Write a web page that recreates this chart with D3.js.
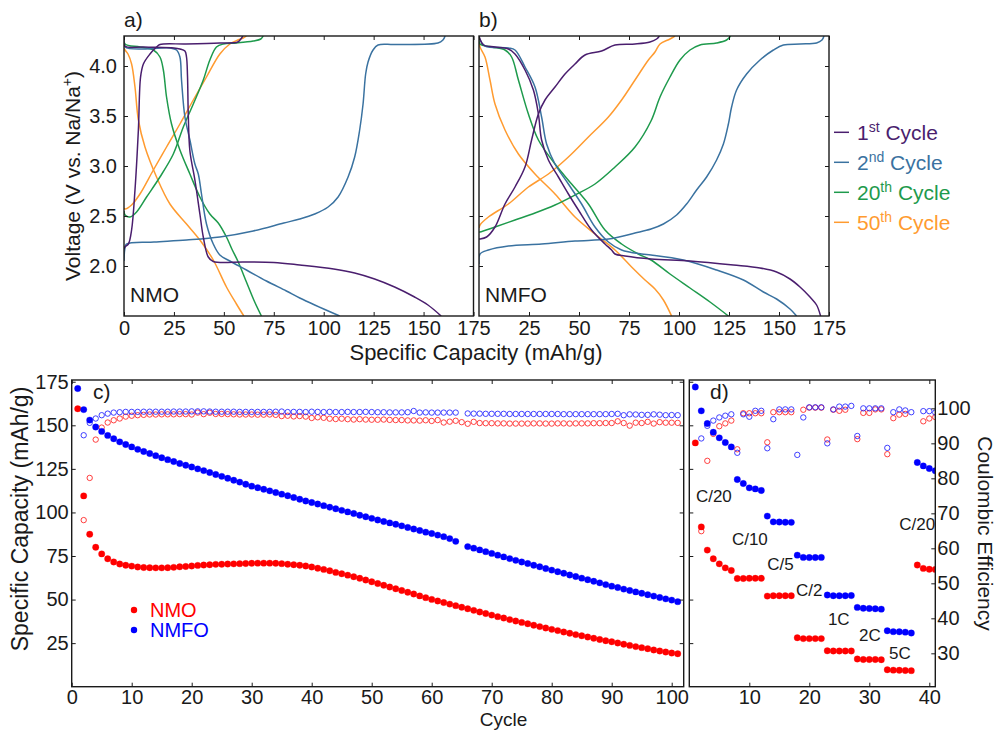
<!DOCTYPE html>
<html><head><meta charset="utf-8">
<script src="https://cdn.jsdelivr.net/npm/d3@7"></script>
<style>body{margin:0;background:#fff}svg{display:block}</style>
</head><body><svg id="fig" width="996" height="730"></svg>
<script>
// ---------- DATA ----------
// Panel a (NMO) voltage profiles: [capacity mAh/g, voltage V]
const aCyc1Charge = [[0,2.17],[0.5,2.19],[2.2,2.22],[3.8,2.36],[5.5,2.76],[7.2,3.36],[8.3,3.89],[9.7,4.02],[13,4.12],[16.3,4.19],[18,4.215],[31,4.22],[48,4.23],[57,4.24],[58.5,4.27],[59.5,4.3]];
const aCyc1Dis = [[0,4.3],[0.5,4.2],[10,4.19],[25,4.18],[28,4.17],[30.5,4.15],[31.3,4.09],[31.8,3.9],[32.2,3.5],[33,3.15],[35.5,2.86],[38,2.52],[39.7,2.29],[42.2,2.09],[44.7,2.045],[60,2.04],[75,2.035],[88,2.01],[105,1.97],[115.5,1.93],[125.5,1.87],[135.5,1.79],[145.5,1.69],[152.2,1.61],[158.8,1.5]];
const aCyc2Charge = [[0,2.05],[0.4,2.17],[1.2,2.22],[15,2.24],[31.3,2.26],[48,2.29],[64.7,2.35],[80,2.43],[88,2.47],[95.5,2.52],[102.2,2.59],[107.2,2.69],[112.2,2.89],[115.5,3.09],[118,3.36],[119.7,3.62],[121,3.92],[122.2,4.04],[124.7,4.16],[127.2,4.21],[135.5,4.215],[157.2,4.23],[159.7,4.26],[160.8,4.3]];
const aCyc2Dis = [[0,4.3],[0.5,4.19],[23,4.18],[26.3,4.16],[28,4.09],[28.8,3.86],[30.5,3.49],[33,3.26],[35.5,3.02],[37.2,2.92],[38.8,2.72],[41.3,2.42],[44.7,2.22],[48,2.11],[53,2.05],[61.3,1.96],[71.3,1.85],[81.3,1.75],[88,1.68],[95.5,1.61],[108,1.5]];
const aCyc20Charge = [[0,2.55],[0.5,2.51],[3,2.49],[6.3,2.54],[11.3,2.69],[18,2.89],[24.7,3.12],[29.7,3.39],[34.7,3.62],[39.7,3.86],[43,4.06],[46.3,4.19],[49.7,4.22],[56.3,4.23],[64.7,4.25],[68.5,4.27],[69.7,4.3]];
const aCyc20Dis = [[0,4.3],[0.5,4.22],[8,4.19],[14.7,4.16],[18,4.09],[19.7,3.96],[21.3,3.69],[23.8,3.42],[28,3.16],[33,2.92],[38,2.69],[43,2.52],[47.2,2.43],[51.3,2.29],[54,2.17],[57.2,2.04],[61.3,1.84],[65,1.66],[68.8,1.5]];
const aCyc50Charge = [[0,2.58],[0.5,2.57],[3.8,2.61],[8,2.72],[14.7,2.96],[21.3,3.19],[28,3.42],[34.7,3.66],[41.3,3.89],[48,4.12],[53,4.22],[57,4.26],[59.7,4.28],[61.3,4.3]];
const aCyc50Dis = [[0,4.18],[0.5,4.16],[2,4.12],[3.8,4.02],[5.5,3.79],[7.2,3.46],[10.5,3.19],[16.3,2.89],[23,2.62],[31.3,2.42],[38,2.26],[44.7,2.06],[51.3,1.79],[56.3,1.62],[60,1.5]];
// Panel b (NMFO)
const bCyc1Charge = [[0,2.27],[0.5,2.27],[3.8,2.29],[8,2.39],[13,2.62],[18,2.79],[23,2.99],[26.3,3.26],[29.7,3.52],[33,3.66],[38,3.79],[43,3.92],[48,4.02],[53,4.11],[61.3,4.15],[68,4.21],[78,4.22],[85.5,4.24],[88.8,4.27],[90.2,4.3]];
const bCyc1Dis = [[0,4.3],[0.5,4.27],[2.2,4.21],[8,4.19],[14.7,4.17],[18,4.12],[23,3.96],[27.2,3.76],[29.7,3.52],[31.3,3.26],[34.7,3.06],[39.7,2.89],[44.7,2.72],[49.7,2.56],[56.3,2.36],[63,2.22],[66.3,2.16],[68,2.12],[73,2.1],[86,2.07],[105.5,2.05],[127.2,2.01],[140.5,1.98],[148.8,1.94],[155.5,1.87],[160.5,1.79],[165.5,1.69],[168.8,1.61],[170.8,1.5]];
const bCyc2Charge = [[0,2.02],[0.5,2.12],[4.7,2.16],[14.7,2.2],[31.3,2.22],[48,2.25],[64.7,2.27],[78,2.33],[86,2.37],[92.2,2.42],[98.8,2.51],[103.8,2.62],[108.8,2.76],[113.8,2.89],[118.8,3.06],[122.2,3.22],[124.7,3.42],[126.3,3.59],[128.8,3.76],[133.8,3.92],[140.5,4.06],[147.2,4.16],[152.2,4.21],[160.5,4.22],[168.8,4.23],[171.5,4.26],[172.5,4.3]];
const bCyc2Dis = [[0,4.3],[0.5,4.26],[3,4.2],[14.7,4.18],[18,4.16],[23,3.99],[28,3.79],[31.3,3.49],[33.8,3.22],[38,3.02],[44.7,2.82],[51.3,2.62],[58,2.39],[64.7,2.24],[71.3,2.16],[81.3,2.12],[86,2.11],[102.2,2.06],[118.8,1.96],[132.2,1.86],[142.2,1.74],[148.8,1.67],[155.5,1.57],[158.8,1.5]];
const bCyc20Charge = [[0,2.34],[0.5,2.34],[8,2.39],[18,2.46],[28,2.53],[38,2.61],[48,2.71],[58,2.82],[68,2.99],[78,3.19],[86,3.45],[90.5,3.69],[95.5,3.89],[100.5,4.06],[105.5,4.16],[110.5,4.21],[118.8,4.23],[123.8,4.26],[125.8,4.3]];
const bCyc20Dis = [[0,4.3],[0.5,4.22],[6.3,4.19],[13,4.16],[16.3,4.09],[19.7,3.86],[24.7,3.52],[29.7,3.26],[38,3.02],[46.3,2.82],[54.7,2.62],[63,2.36],[71.3,2.22],[79.7,2.12],[86,2.06],[95.5,1.92],[105.5,1.78],[115.5,1.64],[124.7,1.5]];
const bCyc50Charge = [[0,2.38],[0.5,2.41],[4.7,2.49],[14.7,2.62],[24.7,2.79],[34.7,2.92],[44.7,3.09],[54.7,3.29],[64.7,3.49],[71.3,3.66],[78,3.86],[84.7,4.06],[88,4.14],[90.5,4.22],[95.5,4.27],[98,4.3]];
const bCyc50Dis = [[0,4.25],[0.5,4.19],[3,4.09],[5.5,3.86],[8,3.62],[13,3.36],[19.7,3.12],[28,2.92],[38,2.72],[48,2.49],[58,2.32],[68,2.16],[76.3,1.99],[83,1.86],[88,1.77],[92.2,1.66],[96.3,1.5]];

const cycleNames = ["1st","2nd","20th","50th"];
const capTicksAB = [0,25,50,75,100,125,150,175];
const voltTicks = [2.0,2.5,3.0,3.5,4.0];

// Panel c: cycles 1..101
const nmoDischarge = [159.5,109.5,87.5,80.0,76.2,73.4,71.6,70.4,69.7,69.2,
68.7,68.4,68.3,68.2,68.2,68.3,68.5,68.8,69.0,69.3,
69.6,69.8,70.0,70.2,70.3,70.4,70.5,70.6,70.7,70.8,
70.9,70.9,70.9,70.8,70.6,70.3,70.0,69.7,69.3,68.7,
68.0,67.3,66.5,65.6,64.8,64.0,63.1,62.2,61.2,60.2,
59.2,58.2,57.2,56.2,55.2,54.2,53.2,52.1,51.1,50.1,
49.2,48.3,47.4,46.5,45.6,44.7,43.8,42.9,42.0,41.1,
40.2,39.4,38.5,37.7,36.9,36.1,35.3,34.5,33.7,32.9,
32.2,31.4,30.7,29.9,29.2,28.5,27.8,27.1,26.4,25.8,
25.1,24.4,23.7,23.0,22.4,21.8,21.1,20.5,19.9,19.3,
18.9];
const nmfoDischarge = [171.1,159.0,153.0,149.0,146.5,144.2,142.3,140.5,139.0,137.6,
136.2,135.0,133.8,132.6,131.4,130.3,129.2,128.1,127.1,126.1,
125.0,124.0,122.9,121.8,120.7,119.6,118.5,117.4,116.2,115.1,
114.2,113.3,112.4,111.4,110.5,109.6,108.6,107.6,106.6,105.7,
104.8,103.9,103.0,102.1,101.2,100.3,99.4,98.4,97.5,96.6,
95.7,94.8,94.0,93.2,92.3,91.4,90.5,89.6,88.7,87.9,
87.0,86.1,85.0,83.4,null,80.4,79.5,78.5,77.5,76.5,
75.5,74.5,73.5,72.5,71.6,70.7,69.7,68.8,67.8,66.9,
66.0,65.1,64.1,63.2,62.3,61.4,60.5,59.6,58.6,57.7,
56.9,56.0,55.2,54.4,53.6,52.8,52.0,51.2,50.4,49.7,
48.8];
const nmoCharge = [null,95.6,119.8,141.8,148.7,151.6,152.9,153.9,155.0,155.5,
155.8,156.0,156.2,156.2,156.3,156.3,156.3,156.4,156.4,156.2,
157.3,156.4,157.2,156.5,156.5,156.4,156.3,156.2,156.2,156.2,
156.1,156.1,156.2,156.0,155.3,155.5,155.1,155.3,155.0,154.2,
154.6,154.3,153.8,153.6,153.8,153.5,153.3,153.5,153.3,153.2,
153.2,153.3,153.1,153.0,153.0,152.8,152.8,152.7,152.9,152.5,
153.0,151.6,152.1,152.6,151.8,150.9,152.0,151.3,151.2,151.2,
151.1,151.1,151.0,151.0,151.0,151.0,151.1,151.1,151.0,151.0,
151.1,151.1,151.0,151.1,151.1,151.1,151.2,151.2,151.3,151.3,
152.3,151.3,149.8,151.5,151.3,152.0,151.0,151.8,151.5,151.5,
151.4];
const nmfoCharge = [null,144.3,151.4,153.9,155.8,156.7,157.3,157.5,157.7,157.7,
157.7,157.8,157.8,157.8,157.8,157.8,157.9,157.9,157.9,158.0,
158.0,158.0,157.9,157.8,157.8,157.8,157.8,157.7,157.7,157.7,
157.7,157.7,157.7,157.8,157.9,157.6,157.7,157.7,157.6,157.8,
157.7,157.6,157.7,157.6,157.6,157.7,157.6,157.6,157.7,157.6,
157.5,157.5,157.4,157.4,157.4,157.5,158.2,157.3,157.4,157.3,
157.3,157.3,157.3,157.3,null,156.8,156.7,156.7,156.6,156.6,
156.6,156.6,156.5,156.5,156.5,156.5,156.5,156.5,156.5,156.5,
156.5,156.4,156.4,156.4,156.4,156.4,156.4,156.4,156.4,156.5,
156.6,155.8,156.3,156.2,156.0,156.0,156.3,156.1,155.8,155.9,
155.8];

// Panel d: rate test, cycles 1..41
const rateNmfoDischarge = [172.0,158.3,151.0,146.0,142.8,140.1,137.6,118.9,116.6,114.1,
113.5,112.6,97.9,94.6,94.5,94.4,94.3,75.5,74.2,74.1,
74.1,74.2,52.6,52.2,52.2,52.2,52.3,45.5,45.0,44.9,
44.7,44.5,32.1,31.6,31.5,31.3,30.8,128.7,126.7,125.2,
123.9];
const rateNmoDischarge = [139.9,91.7,78.4,73.4,70.5,68.2,66.7,62.1,62.1,62.2,
62.2,62.2,52.0,52.2,52.2,52.2,52.2,28.1,27.6,27.6,
27.6,27.6,20.6,20.5,20.5,20.5,20.5,15.9,15.6,15.6,
15.6,15.5,9.7,9.5,9.4,9.3,9.2,69.8,67.9,67.4,
67.3];
const rateNmfoCE = [null,91.4,95.0,96.5,97.4,97.9,98.3,87.3,98.3,97.6,
99.3,99.3,88.6,96.9,99.7,99.7,99.7,86.7,97.4,100.3,
100.3,100.3,90.0,99.7,100.5,100.5,100.7,92.1,100.0,100.0,
100.0,100.0,88.7,98.9,99.7,99.4,98.9,null,99.2,99.2,
98.8];
const rateNmoCE = [null,64.9,85.0,92.7,94.9,95.7,96.5,88.3,98.6,98.6,
98.6,98.6,90.3,98.9,98.9,98.9,98.9,null,99.6,100.2,
100.2,100.2,91.1,99.6,99.3,99.6,null,91.2,98.7,98.7,
99.7,99.7,86.9,97.2,98.2,98.4,null,null,96.3,97.1,
97.5];
const rateLabels = ["C/20","C/10","C/5","C/2","1C","2C","5C","C/20"];
const rateLabelAt = [[1.1,105.9],[7.1,81.3],[13.0,66.9],[17.8,52.0],[23.1,35.4],[28.3,26.2],[33.3,15.9],[35.0,89.9]]; // [cycle, capacity]

const cycleTicksC = [0,10,20,30,40,50,60,70,80,90,100];
const cycleTicksD = [10,20,30,40];
const capTicksC = [25,50,75,100,125,150,175];
const ceTicks = [30,40,50,60,70,80,90,100];

// ---------- DRAWING ----------
const FONT = '"Liberation Sans", Arial, Helvetica, sans-serif';
const INK = "#1a1a1a";
const COL = ["#4a1e6e","#3a72a0","#1e9a4c","#ff9b30"];
const svg = d3.select("#fig");
svg.append("rect").attr("width",996).attr("height",730).attr("fill","#fff");
const defs = svg.append("defs");

function clip(id,x0,y0,x1,y1){
  defs.append("clipPath").attr("id",id).append("rect").attr("x",x0).attr("y",y0).attr("width",x1-x0).attr("height",y1-y0);
}
function styleAxis(g,size){
  g.select(".domain").remove();
  g.selectAll(".tick line").attr("stroke",INK).attr("stroke-width",1);
  g.selectAll(".tick text").attr("font-size",size).attr("font-family",FONT).attr("fill",INK);
}
function frame(x0,y0,x1,y1){
  svg.append("rect").attr("x",x0).attr("y",y0).attr("width",x1-x0).attr("height",y1-y0)
    .attr("fill","none").attr("stroke",INK).attr("stroke-width",1.4);
}
function txt(x,y,s,size,opts={}){
  const t=svg.append("text").attr("x",x).attr("y",y).attr("font-family",FONT).attr("font-size",size)
    .attr("fill",opts.fill||INK).text(s);
  if(opts.anchor) t.attr("text-anchor",opts.anchor);
  return t;
}

// ----- panels a & b -----
const vy = d3.scaleLinear().domain([1.5,4.3]).range([316,36]);
const ax = d3.scaleLinear().domain([0,175]).range([124,473.5]);
const bx = d3.scaleLinear().domain([0,175]).range([479,829]);
const TF = 20;

function voltPanel(xs, x0, x1, curves, id, showY, xTickVals){
  clip(id,x0,36,x1,316);
  const g = svg.append("g").attr("clip-path",`url(#${id})`);
  const line = d3.line().x(d=>xs(d[0])).y(d=>vy(d[1])).curve(d3.curveCatmullRom.alpha(0.5));
  [3,2,1,0].forEach(i=>{
    curves[i].forEach(arr=>{
      g.append("path").datum(arr).attr("d",line).attr("fill","none")
        .attr("stroke",COL[i]).attr("stroke-width",1.5).attr("stroke-linejoin","round");
    });
  });
  const gb = svg.append("g").attr("transform","translate(0,316)")
    .call(d3.axisBottom(xs).tickValues(xTickVals).tickSize(-4).tickPadding(5).tickFormat(d3.format("d")));
  styleAxis(gb,TF);
  const gt = svg.append("g").attr("transform","translate(0,36)")
    .call(d3.axisTop(xs).tickValues(capTicksAB).tickSize(-4).tickFormat(""));
  styleAxis(gt,TF);
  const gl = svg.append("g").attr("transform",`translate(${x0},0)`)
    .call(d3.axisLeft(vy).tickValues(voltTicks).tickSize(-4).tickPadding(7).tickFormat(showY?d3.format(".1f"):""));
  styleAxis(gl,TF);
  const gr = svg.append("g").attr("transform",`translate(${x1},0)`)
    .call(d3.axisRight(vy).tickValues(voltTicks).tickSize(-4).tickFormat(""));
  styleAxis(gr,TF);
  frame(x0,36,x1,316);
}
voltPanel(ax,124,473.5,[[aCyc1Charge,aCyc1Dis],[aCyc2Charge,aCyc2Dis],[aCyc20Charge,aCyc20Dis],[aCyc50Charge,aCyc50Dis]],"clipA",true,capTicksAB);
voltPanel(bx,479,829,[[bCyc1Charge,bCyc1Dis],[bCyc2Charge,bCyc2Dis],[bCyc20Charge,bCyc20Dis],[bCyc50Charge,bCyc50Dis]],"clipB",false,capTicksAB.slice(1));

txt(124,27,"a)",21);
txt(479,27,"b)",21);
txt(130,302,"NMO",21);
txt(485,302,"NMFO",21);

const yl = svg.append("text").attr("transform","translate(80,176) rotate(-90)").attr("text-anchor","middle")
  .attr("font-family",FONT).attr("font-size",21).attr("fill",INK);
yl.append("tspan").text("Voltage (V vs. Na/Na");
yl.append("tspan").attr("font-size",14).attr("dy",-8).text("+");
yl.append("tspan").attr("dy",8).text(")");
txt(476,360,"Specific Capacity (mAh/g)",22,{anchor:"middle"});

const sups = ["st","nd","th","th"];
cycleNames.forEach((n,i)=>{
  const y = 132.3 + i*30;
  svg.append("line").attr("x1",834).attr("x2",849).attr("y1",y).attr("y2",y).attr("stroke",COL[i]).attr("stroke-width",1.5);
  const t = svg.append("text").attr("x",857).attr("y",y+7.5).attr("font-family",FONT).attr("font-size",21).attr("fill",COL[i]);
  const num = n.replace(sups[i],"");
  t.append("tspan").text(num);
  t.append("tspan").attr("font-size",14).attr("dy",-8).text(sups[i]);
  t.append("tspan").attr("dy",8).text(" Cycle");
});

// ----- panel c -----
const capY = d3.scaleLinear().domain([0,176]).range([686.7,380]);
const cx = d3.scaleLinear().domain([0,102]).range([71.7,683.7]);
const dx = d3.scaleLinear().domain([0,41]).range([689.3,935.3]);
const ceY = d3.scaleLinear().domain([20.46,108.1]).range([686.7,380]);

function dots(g,xs,ys,arr,color,filled){
  const data = arr.map((v,i)=>({c:i+1,v})).filter(d=>d.v!==null);
  g.selectAll(null).data(data).enter().append("circle")
    .attr("cx",d=>xs(d.c)).attr("cy",d=>ys(d.v))
    .attr("r",filled?3.2:2.7)
    .attr("fill",filled?color:"none")
    .attr("stroke",color).attr("stroke-width",filled?0.3:1).attr("stroke-opacity",filled?1:0.85);
}

clip("clipC",71.7,380,683.7,686.7);
const gc = svg.append("g").attr("clip-path","url(#clipC)");
dots(gc,cx,capY,nmoCharge,"#ff2020",false);
dots(gc,cx,capY,nmfoCharge,"#2020ff",false);
dots(gc,cx,capY,nmoDischarge,"#ff0000",true);
dots(gc,cx,capY,nmfoDischarge,"#0000ff",true);

let g1 = svg.append("g").attr("transform","translate(0,686.7)")
  .call(d3.axisBottom(cx).tickValues(cycleTicksC).tickSize(-4).tickPadding(3).tickFormat(d3.format("d")));
styleAxis(g1,TF);
g1 = svg.append("g").attr("transform","translate(0,380)")
  .call(d3.axisTop(cx).tickValues(cycleTicksC).tickSize(-4).tickFormat(""));
styleAxis(g1,TF);
g1 = svg.append("g").attr("transform","translate(71.7,0)")
  .call(d3.axisLeft(capY).tickValues(capTicksC).tickSize(-4).tickPadding(3).tickFormat(d3.format("d")));
styleAxis(g1,TF);
g1 = svg.append("g").attr("transform","translate(683.7,0)")
  .call(d3.axisRight(capY).tickValues(capTicksC).tickSize(-4).tickFormat(""));
styleAxis(g1,TF);
frame(71.7,380,683.7,686.7);

txt(93,399,"c)",21);
svg.append("circle").attr("cx",134).attr("cy",610).attr("r",3.2).attr("fill","#ff0000");
svg.append("circle").attr("cx",134).attr("cy",630).attr("r",3.2).attr("fill","#0000ff");
txt(150,617,"NMO",20,{fill:"#ff0000"});
txt(150,637,"NMFO",20,{fill:"#0000ff"});

svg.append("text").attr("transform","translate(28,519) rotate(-90)").attr("text-anchor","middle")
  .attr("font-family",FONT).attr("font-size",23).attr("fill",INK).text("Specific Capacity (mAh/g)");

// ----- panel d -----
clip("clipD",689.3,380,935.3,686.7);
const gd = svg.append("g").attr("clip-path","url(#clipD)");
dots(gd,dx,ceY,rateNmoCE,"#ff2020",false);
dots(gd,dx,ceY,rateNmfoCE,"#2020ff",false);
dots(gd,dx,capY,rateNmoDischarge,"#ff0000",true);
dots(gd,dx,capY,rateNmfoDischarge,"#0000ff",true);

g1 = svg.append("g").attr("transform","translate(0,686.7)")
  .call(d3.axisBottom(dx).tickValues(cycleTicksD).tickSize(-4).tickPadding(3).tickFormat(d3.format("d")));
styleAxis(g1,TF);
g1 = svg.append("g").attr("transform","translate(0,380)")
  .call(d3.axisTop(dx).tickValues(cycleTicksD).tickSize(-4).tickFormat(""));
styleAxis(g1,TF);
g1 = svg.append("g").attr("transform","translate(689.3,0)")
  .call(d3.axisLeft(capY).tickValues(capTicksC).tickSize(-4).tickFormat(""));
styleAxis(g1,TF);
g1 = svg.append("g").attr("transform","translate(935.3,0)")
  .call(d3.axisRight(ceY).tickValues(ceTicks).tickSize(-4).tickPadding(2).tickFormat(d3.format("d")));
styleAxis(g1,TF);
frame(689.3,380,935.3,686.7);

txt(710,399,"d)",21);
rateLabels.forEach((s,i)=>{
  txt(dx(rateLabelAt[i][0]),capY(rateLabelAt[i][1]),s,17);
});

svg.append("text").attr("transform","translate(978,533.5) rotate(90)").attr("text-anchor","middle")
  .attr("font-family",FONT).attr("font-size",21).attr("fill",INK).text("Coulombic Efficiency");

txt(503.5,726,"Cycle",19,{anchor:"middle"});
</script></body></html>
